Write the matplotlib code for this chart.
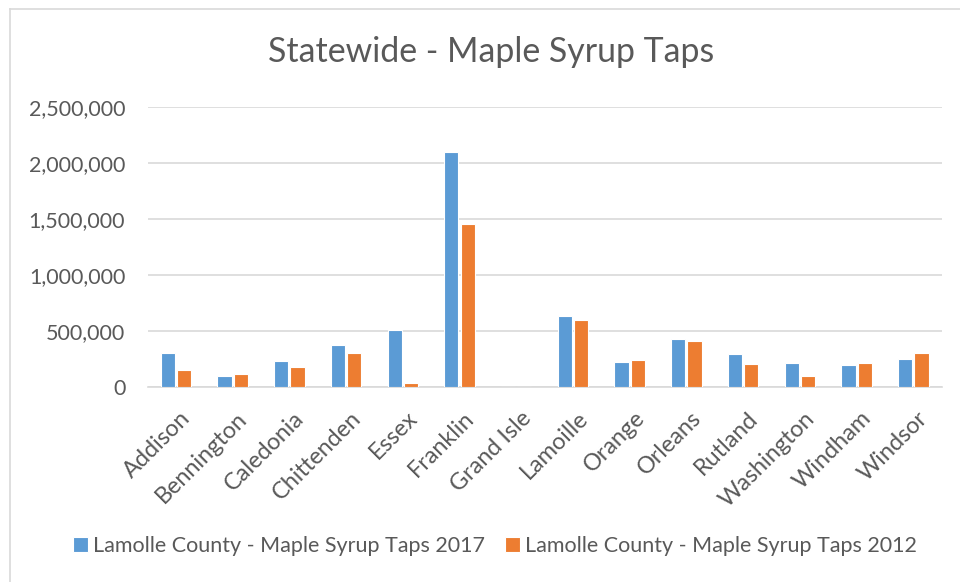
import matplotlib
matplotlib.use("Agg")
import matplotlib.pyplot as plt
from matplotlib.lines import Line2D
from matplotlib.ticker import FuncFormatter
from matplotlib.transforms import ScaledTranslation
import numpy as np

counties = ["Addison", "Bennington", "Caledonia", "Chittenden", "Essex", "Franklin",
            "Grand Isle", "Lamoille", "Orange", "Orleans", "Rutland", "Washington",
            "Windham", "Windsor"]
taps_2017 = [301000, 93000, 227000, 373000, 510000, 2097000, 0,
             632000, 218000, 427000, 292000, 215000, 194000, 245000]
taps_2012 = [147000, 116000, 176000, 301000, 33000, 1455000, 0,
             597000, 239000, 409000, 200000, 98000, 212000, 299000]
series_labels = ["Lamolle County - Maple Syrup Taps 2017",
                 "Lamolle County - Maple Syrup Taps 2012"]
title = "Statewide - Maple Syrup Taps"
y_ticks = [0, 500000, 1000000, 1500000, 2000000, 2500000]

BLUE = "#5B9BD5"
ORANGE = "#ED7D31"
TEXT = "#595959"
GRID = "#D9D9D9"
FONT = "Lato"
TICK_SIZE = 15.5
CAT_SIZE = 16.8

W, H = 960, 582
fig = plt.figure(figsize=(W / 100, H / 100), dpi=100)
fig.patch.set_facecolor("white")

# chart area frame (top and left edges are visible)
fig.add_artist(Line2D([10 / W, 10 / W], [0, 1 - 9 / H], transform=fig.transFigure,
                      color=GRID, lw=1.2))
fig.add_artist(Line2D([10 / W, 1], [1 - 9 / H, 1 - 9 / H], transform=fig.transFigure,
                      color=GRID, lw=1.2))

left, right = 147.5, 941.7
bottom, top = 386.7, 107.3
ax = fig.add_axes([left / W, 1 - bottom / H, (right - left) / W, (bottom - top) / H])

x = np.arange(len(counties))
off = 0.143
bw = 0.25
ax.bar(x - off, taps_2017, width=bw, color=BLUE, edgecolor="white", linewidth=0.8,
       label=series_labels[0], zorder=3)
ax.bar(x + off, taps_2012, width=bw, color=ORANGE, edgecolor="white", linewidth=0.8,
       label=series_labels[1], zorder=3)

ax.set_xlim(-0.5, len(counties) - 0.5)
ax.set_ylim(0, 2500000)
ax.set_yticks(y_ticks)
ax.yaxis.set_major_formatter(FuncFormatter(lambda v, p: f"{int(v):,}"))
ax.grid(axis="y", color=GRID, linewidth=1.2, zorder=0)
for s in ["top", "right", "left"]:
    ax.spines[s].set_visible(False)
ax.spines["bottom"].set_color(GRID)
ax.spines["bottom"].set_linewidth(1.2)
ax.tick_params(axis="both", length=0, colors=TEXT, labelsize=TICK_SIZE)
ax.tick_params(axis="y", pad=16)
for lbl in ax.get_yticklabels():
    lbl.set_fontfamily(FONT)

ax.set_xticks(x)
ax.set_xticklabels(counties, rotation=45, ha="right", va="top",
                   rotation_mode="anchor", fontfamily=FONT, fontsize=CAT_SIZE, color=TEXT)
ax.tick_params(axis="x", pad=15)
shift = ScaledTranslation(4 / 100, 0, fig.dpi_scale_trans)
for lbl in ax.get_xticklabels():
    lbl.set_transform(lbl.get_transform() + shift)

fig.text(491 / W, 1 - 52 / H, title, ha="center", va="center", fontsize=24.4,
         color=TEXT, fontfamily=FONT)

leg = fig.legend(loc="center", bbox_to_anchor=(495 / W, 1 - 546 / H), ncol=2,
                 frameon=False, prop={"family": FONT, "size": TICK_SIZE},
                 handlelength=0.7, handleheight=0.7, handletextpad=0.25,
                 columnspacing=0.9, labelcolor=TEXT)

fig.savefig("out.png", dpi=100, facecolor="white")
